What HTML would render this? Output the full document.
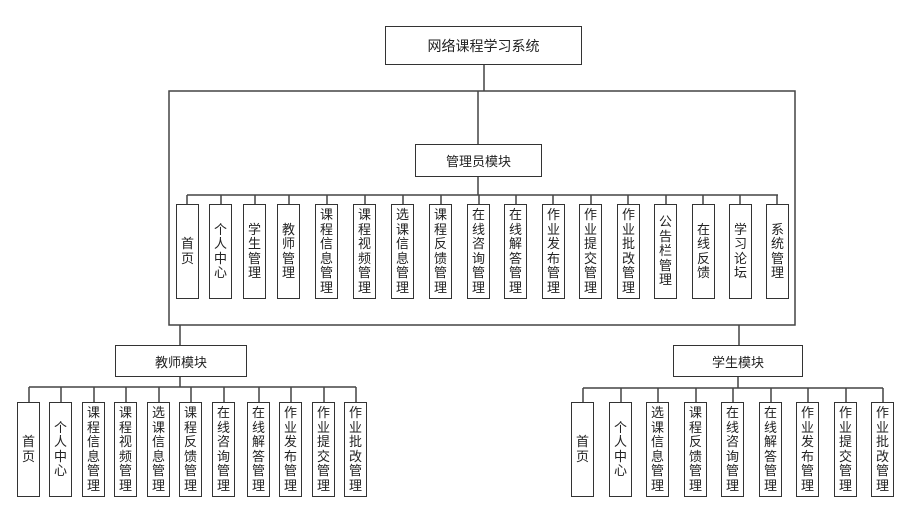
<!DOCTYPE html>
<html><head><meta charset="utf-8"><style>
body{margin:0;width:919px;height:514px;background:#fff;position:relative;overflow:hidden;font-family:"Liberation Sans","Noto Sans CJK SC",sans-serif;color:#222}
.b{position:absolute;border:1.5px solid #333;box-sizing:border-box;background:#fff;display:flex;align-items:center;justify-content:center;font-size:13px}
.v{width:23px;top:204px;height:95px}
.v span{display:block;width:13px;line-height:14.5px;word-break:break-all;text-align:center}
.l{position:absolute;background:#444}
.t{top:402px}
</style></head><body>
<svg width="919" height="514" style="position:absolute;left:0;top:0" stroke="#444" stroke-width="1.5" fill="none">
<path d="M484 65V91 M169 91H795V325H169Z M478 91V145 M478 176V195 M187 195H778"/>
<path d="M187 195V204 M221 195V204 M255 195V204 M289 195V204 M327 195V204 M365 195V204 M403 195V204 M441 195V204 M479 195V204 M516 195V204 M553 195V204 M591 195V204 M628 195V204 M666 195V204 M703 195V204 M740 195V204 M777 195V204"/>
<path d="M180 325V345 M739 325V345 M180 376V387 M29 387H356 M29 387V402 M61 387V402 M94 387V402 M126 387V402 M159 387V402 M191 387V402 M224 387V402 M259 387V402 M291 387V402 M324 387V402 M356 387V402"/>
<path d="M738 376V388 M583 388H883 M583 388V402 M621 388V402 M658 388V402 M696 388V402 M733 388V402 M771 388V402 M808 388V402 M846 388V402 M883 388V402"/>
</svg>
<div class="b" style="left:385px;top:26px;width:197px;height:39px;font-size:14px">网络课程学习系统</div>
<div class="b" style="left:415px;top:144px;width:127px;height:33px">管理员模块</div>
<div class="b" style="left:115px;top:345px;width:132px;height:32px">教师模块</div>
<div class="b" style="left:673px;top:345px;width:130px;height:32px">学生模块</div>

<div class="b v" style="left:176px"><span>首页</span></div>
<div class="b v" style="left:209px"><span>个人中心</span></div>
<div class="b v" style="left:243px"><span>学生管理</span></div>
<div class="b v" style="left:277px"><span>教师管理</span></div>
<div class="b v" style="left:315px"><span>课程信息管理</span></div>
<div class="b v" style="left:353px"><span>课程视频管理</span></div>
<div class="b v" style="left:391px"><span>选课信息管理</span></div>
<div class="b v" style="left:429px"><span>课程反馈管理</span></div>
<div class="b v" style="left:467px"><span>在线咨询管理</span></div>
<div class="b v" style="left:504px"><span>在线解答管理</span></div>
<div class="b v" style="left:542px"><span>作业发布管理</span></div>
<div class="b v" style="left:579px"><span>作业提交管理</span></div>
<div class="b v" style="left:617px"><span>作业批改管理</span></div>
<div class="b v" style="left:654px"><span>公告栏管理</span></div>
<div class="b v" style="left:692px"><span>在线反馈</span></div>
<div class="b v" style="left:729px"><span>学习论坛</span></div>
<div class="b v" style="left:766px"><span>系统管理</span></div>

<div class="b v t" style="left:17px"><span>首页</span></div>
<div class="b v t" style="left:49px"><span>个人中心</span></div>
<div class="b v t" style="left:82px"><span>课程信息管理</span></div>
<div class="b v t" style="left:114px"><span>课程视频管理</span></div>
<div class="b v t" style="left:147px"><span>选课信息管理</span></div>
<div class="b v t" style="left:179px"><span>课程反馈管理</span></div>
<div class="b v t" style="left:212px"><span>在线咨询管理</span></div>
<div class="b v t" style="left:247px"><span>在线解答管理</span></div>
<div class="b v t" style="left:279px"><span>作业发布管理</span></div>
<div class="b v t" style="left:312px"><span>作业提交管理</span></div>
<div class="b v t" style="left:344px"><span>作业批改管理</span></div>

<div class="b v t" style="left:571px"><span>首页</span></div>
<div class="b v t" style="left:609px"><span>个人中心</span></div>
<div class="b v t" style="left:646px"><span>选课信息管理</span></div>
<div class="b v t" style="left:684px"><span>课程反馈管理</span></div>
<div class="b v t" style="left:721px"><span>在线咨询管理</span></div>
<div class="b v t" style="left:759px"><span>在线解答管理</span></div>
<div class="b v t" style="left:796px"><span>作业发布管理</span></div>
<div class="b v t" style="left:834px"><span>作业提交管理</span></div>
<div class="b v t" style="left:871px"><span>作业批改管理</span></div>
</body></html>
